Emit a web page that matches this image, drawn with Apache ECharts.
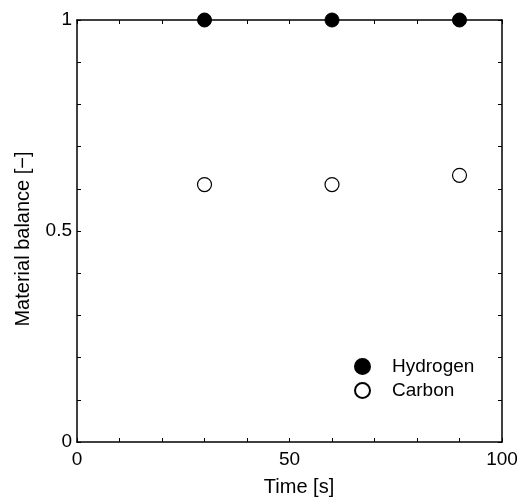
<!DOCTYPE html>
<html>
<head>
<meta charset="utf-8">
<script src="https://cdn.jsdelivr.net/npm/echarts@6/dist/echarts.min.js"></script>
<style>html,body{margin:0;padding:0;background:#fff;}#c{width:523px;height:502px;}</style>
</head>
<body>
<div id="c"></div>
<script>
const timeValues = [30, 60, 90];
const hydrogenValues = [1.0, 1.0, 1.0];
const carbonValues = [0.61, 0.61, 0.632];
const xTickLabels = [0, 50, 100];
const yTickLabels = [0, 0.5, 1];

const FONT = 'Liberation Sans, Arial, sans-serif';
const chart = echarts.init(document.getElementById('c'), null, {renderer: 'canvas'});

function axisBase(extra) {
  return Object.assign({
    axisLine: {show: true, onZero: false, lineStyle: {color: '#000', width: 1.5}},
    axisTick: {show: true, inside: true, length: 4, lineStyle: {color: '#000', width: 1}},
    splitLine: {show: false}
  }, extra);
}

chart.setOption({
  animation: false,
  backgroundColor: '#fff',
  grid: {left: 77, right: 21, top: 20, bottom: 58, containLabel: false},
  legend: {
    orient: 'vertical',
    left: 349,
    top: 352,
    itemWidth: 15,
    itemHeight: 15,
    itemGap: 5,
    textStyle: {fontFamily: FONT, fontSize: 19, color: '#000', padding: [0, 0, 0, 17]},
    data: ['Hydrogen', 'Carbon']
  },
  xAxis: [
    axisBase({
      type: 'value', min: 0, max: 100, interval: 10, position: 'bottom',
      name: 'Time [s]', nameLocation: 'middle', nameGap: 35,
      nameTextStyle: {fontFamily: FONT, fontSize: 20, color: '#000', padding: [0, 0, 0, 19]},
      axisLabel: {
        fontFamily: FONT, fontSize: 19, color: '#000', margin: 8,
        formatter: v => (xTickLabels.indexOf(v) >= 0 ? String(v) : '')
      }
    }),
    axisBase({
      type: 'value', min: 0, max: 100, interval: 10, position: 'top',
      axisLabel: {show: false}
    })
  ],
  yAxis: [
    axisBase({
      type: 'value', min: 0, max: 1, interval: 0.1, position: 'left',
      name: 'Material balance [−]', nameLocation: 'middle', nameGap: 44,
      nameTextStyle: {fontFamily: FONT, fontSize: 20, color: '#000', padding: [0, 16, 0, 0]},
      axisLabel: {
        fontFamily: FONT, fontSize: 19, color: '#000', margin: 5,
        formatter: v => {
          const r = Math.round(v * 10) / 10;
          return yTickLabels.indexOf(r) >= 0 ? String(r) : '';
        }
      }
    }),
    axisBase({
      type: 'value', min: 0, max: 1, interval: 0.1, position: 'right',
      axisLabel: {show: false}
    })
  ],
  series: [
    {
      name: 'Hydrogen', type: 'scatter', clip: false, z: 10,
      symbol: 'circle', symbolSize: 14,
      itemStyle: {color: '#000', borderColor: '#000', borderWidth: 1, opacity: 1},
      data: timeValues.map((t, i) => [t, hydrogenValues[i]])
    },
    {
      name: 'Carbon', type: 'scatter', clip: false, z: 10,
      symbol: 'circle', symbolSize: 14,
      itemStyle: {color: '#fff', borderColor: '#000', borderWidth: 1.2, opacity: 1},
      data: timeValues.map((t, i) => [t, carbonValues[i]])
    }
  ]
});
</script>
</body>
</html>
